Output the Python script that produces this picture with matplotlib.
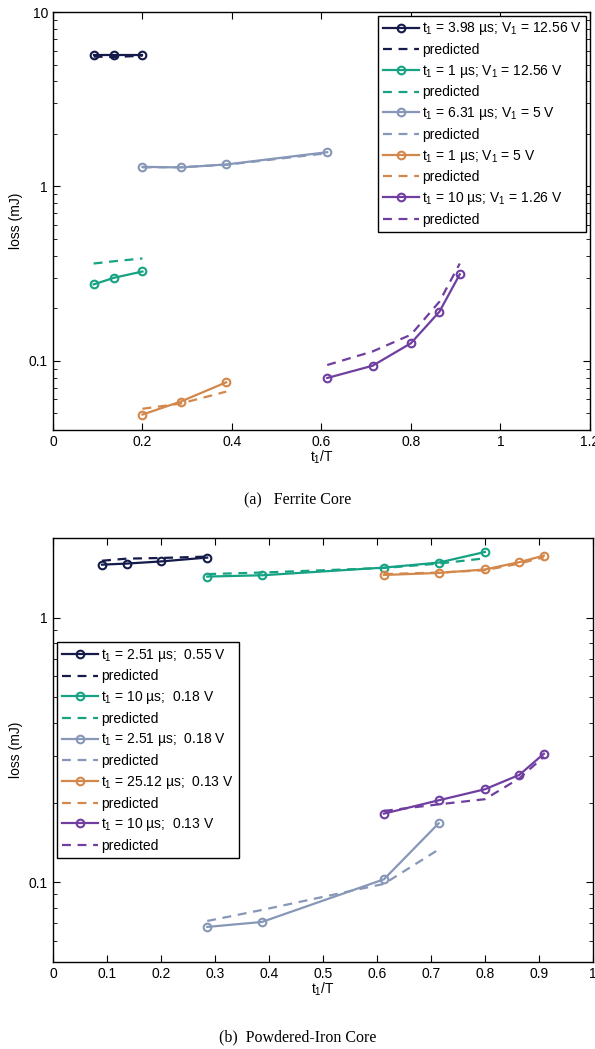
import matplotlib
matplotlib.use('Agg')
import matplotlib.pyplot as plt
from matplotlib.ticker import FixedLocator, NullFormatter, LogLocator

plt.rcParams['font.family'] = ['Liberation Sans', 'DejaVu Sans']
plt.rcParams['mathtext.fontset'] = 'custom'
plt.rcParams['mathtext.rm'] = 'Liberation Sans'
plt.rcParams['mathtext.it'] = 'Liberation Sans:italic'

colors = ['#141a4a', '#15a383', '#8797b8', '#d4874a', '#6f3ea0']

# (a) Ferrite core
ferrite_x = [
    [0.0909, 0.1364, 0.2],
    [0.0909, 0.1364, 0.2],
    [0.2, 0.2857, 0.3871, 0.6129],
    [0.2, 0.2857, 0.3871],
    [0.6129, 0.7143, 0.8, 0.8636, 0.9091],
]
ferrite_meas = [
    [5.68, 5.68, 5.68],
    [0.274, 0.299, 0.325],
    [1.295, 1.284, 1.336, 1.571],
    [0.0491, 0.0583, 0.0752],
    [0.0796, 0.0936, 0.126, 0.191, 0.313],
]
ferrite_pred = [
    [5.55, 5.52, 5.62],
    [0.361, 0.372, 0.386],
    [1.285, 1.29, 1.33, 1.55],
    [0.053, 0.0568, 0.0665],
    [0.0945, 0.113, 0.141, 0.218, 0.361],
]
ferrite_labels = [
    r'$\mathregular{t_1}$ = 3.98 µs; $\mathregular{V_1}$ = 12.56 V',
    r'$\mathregular{t_1}$ = 1 µs; $\mathregular{V_1}$ = 12.56 V',
    r'$\mathregular{t_1}$ = 6.31 µs; $\mathregular{V_1}$ = 5 V',
    r'$\mathregular{t_1}$ = 1 µs; $\mathregular{V_1}$ = 5 V',
    r'$\mathregular{t_1}$ = 10 µs; $\mathregular{V_1}$ = 1.26 V',
]

# (b) Powdered-iron core
iron_x = [
    [0.0909, 0.1364, 0.2, 0.2857],
    [0.2857, 0.3871, 0.6129, 0.7143, 0.8],
    [0.2857, 0.3871, 0.6129, 0.7143],
    [0.6129, 0.7143, 0.8, 0.8636, 0.9091],
    [0.6129, 0.7143, 0.8, 0.8636, 0.9091],
]
iron_meas = [
    [1.585, 1.60, 1.63, 1.686],
    [1.429, 1.445, 1.545, 1.614, 1.77],
    [0.0678, 0.0708, 0.1026, 0.167],
    [1.449, 1.475, 1.52, 1.62, 1.715],
    [0.1817, 0.204, 0.2246, 0.2545, 0.306],
]
iron_pred = [
    [1.64, 1.67, 1.68, 1.70],
    [1.46, 1.48, 1.54, 1.60, 1.675],
    [0.0714, 0.0786, 0.0986, 0.133],
    [1.46, 1.48, 1.51, 1.60, 1.69],
    [0.186, 0.197, 0.206, 0.247, 0.298],
]
iron_labels = [
    r'$\mathregular{t_1}$ = 2.51 µs;  0.55 V',
    r'$\mathregular{t_1}$ = 10 µs;  0.18 V',
    r'$\mathregular{t_1}$ = 2.51 µs;  0.18 V',
    r'$\mathregular{t_1}$ = 25.12 µs;  0.13 V',
    r'$\mathregular{t_1}$ = 10 µs;  0.13 V',
]


def draw(ax, xs, meas, pred, labels):
    for i in range(len(xs)):
        ax.plot(xs[i], meas[i], '-o', color=colors[i], lw=1.6, ms=5.5,
                mfc='none', mew=1.5, label=labels[i])
        ax.plot(xs[i], pred[i], '--', color=colors[i], lw=1.6,
                dashes=(4, 3), label='predicted')
    ax.set_yscale('log')
    ax.set_xlabel(r'$\mathregular{t_1}$/T', fontsize=10, labelpad=0)
    ax.set_ylabel('loss (mJ)', fontsize=10, labelpad=4)
    ax.tick_params(which='both', direction='in', top=True, right=True,
                   labelsize=10)
    ax.tick_params(which='major', length=5)
    ax.tick_params(which='minor', length=3)
    for s in ax.spines.values():
        s.set_linewidth(1.0)


def add_legend(ax, **kw):
    leg = ax.legend(fontsize=10, numpoints=1, handlelength=2.6,
                    handletextpad=0.2, labelspacing=0.41, borderpad=0.35,
                    fancybox=False, framealpha=1, edgecolor='black', **kw)
    leg.get_frame().set_linewidth(1.0)
    return leg


fig = plt.figure(figsize=(5.95, 10.49), dpi=100)

ax1 = fig.add_axes([0.089, 0.590, 0.9025, 0.3985])
draw(ax1, ferrite_x, ferrite_meas, ferrite_pred, ferrite_labels)
ax1.set_xlim(0, 1.2)
ax1.set_ylim(0.04, 10)
ax1.set_xticks([0, 0.2, 0.4, 0.6, 0.8, 1.0, 1.2])
ax1.set_xticklabels(['0', '0.2', '0.4', '0.6', '0.8', '1', '1.2'])
ax1.yaxis.set_major_locator(FixedLocator([0.1, 1, 10]))
ax1.set_yticklabels(['0.1', '1', '10'])
ax1.yaxis.set_minor_locator(LogLocator(base=10, subs=range(2, 10)))
ax1.yaxis.set_minor_formatter(NullFormatter())
add_legend(ax1, loc='upper right', borderaxespad=0.25)

ax2 = fig.add_axes([0.089, 0.083, 0.9076, 0.4042])
draw(ax2, iron_x, iron_meas, iron_pred, iron_labels)
ax2.set_xlim(0, 1)
ax2.set_ylim(0.05, 2)
ax2.set_xticks([i / 10 for i in range(11)])
ax2.set_xticklabels(['0', '0.1', '0.2', '0.3', '0.4', '0.5', '0.6', '0.7',
                     '0.8', '0.9', '1'])
ax2.yaxis.set_major_locator(FixedLocator([0.1, 1]))
ax2.set_yticklabels(['0.1', '1'])
ax2.yaxis.set_minor_locator(LogLocator(base=10, subs=range(2, 10)))
ax2.yaxis.set_minor_formatter(NullFormatter())
add_legend(ax2, loc='upper left', bbox_to_anchor=(0.008, 0.755),
           borderaxespad=0)

fig.text(0.5, 1 - 500 / 1049, '(a)   Ferrite Core', ha='center',
         va='center', fontsize=11.5, family='Liberation Serif')
fig.text(0.5, 1 - 1037 / 1049, '(b)  Powdered-Iron Core', ha='center',
         va='center', fontsize=11.5, family='Liberation Serif')

fig.savefig('out.png', dpi=100)
